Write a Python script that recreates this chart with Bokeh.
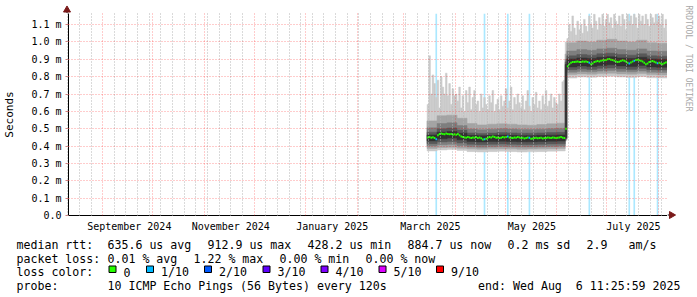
import math
import pandas as pd
from bokeh.plotting import figure
from bokeh.layouts import column, row
from bokeh.models import (ColumnDataSource, FixedTicker, Grid, BoxAnnotation, Range1d)
from bokeh.core.properties import value
from bokeh.embed import file_html
from bokeh.resources import INLINE

# ---------------- data ----------------
start_time = "2024-08-11 11:25:59"
end_time = "2025-08-06 11:25:59"

y_ticks_us = [0, 100, 200, 300, 400, 500, 600, 700, 800, 900, 1000, 1100]
y_tick_labels = ["0.0", "0.1 m", "0.2 m", "0.3 m", "0.4 m", "0.5 m", "0.6 m",
                 "0.7 m", "0.8 m", "0.9 m", "1.0 m", "1.1 m"]
y_top_us = 1164

month_label_months = ["2024-09-01", "2024-11-01", "2025-01-01", "2025-03-01", "2025-05-01", "2025-07-01"]
month_labels = ["September 2024", "November 2024", "January 2025", "March 2025", "May 2025", "July 2025"]

# daily values, 2025-03-15 .. 2025-08-06
first_day = "2025-03-15"
median_us = [
    450, 452, 448, 451, 446, 440,
    462, 470, 472, 470, 468, 472, 470, 468, 470, 466, 468, 465, 470, 462,
    455, 452, 450, 448, 452, 450, 446, 450, 448, 452, 447, 450, 445, 438, 440, 442, 448, 452, 450, 455, 452, 448, 450, 446, 448, 452, 450,
    452, 455, 450, 448, 446, 450, 448, 452, 450, 446, 448, 444, 446, 450, 448, 442, 444, 446, 448, 445, 446, 448, 444, 447, 446, 449, 448, 446, 450, 448, 446,
    448, 450, 452, 448, 446,
    500,
    860, 872, 880, 885, 884, 886, 888, 885, 884, 887, 886, 888, 885, 880, 872, 876, 884, 888, 890, 888, 892, 895, 894, 896,
    900, 902, 898, 896, 892, 888, 884, 886, 890, 894, 892, 888, 880, 876, 882, 888, 892, 896, 898, 895, 892, 888, 880, 872, 876, 884, 888, 890, 886, 882, 878,
    880, 876, 872, 878, 882, 885,
]
max_us = [
    640, 920, 700, 810, 760, 680, 780, 620, 800, 740, 700, 820, 690, 760, 640, 730, 690,
    700, 660, 740, 620, 690, 600, 720, 650, 740, 610, 680, 720, 640, 660, 600, 700, 620, 680, 640, 610, 690, 650, 720, 600, 640, 670, 610, 690, 630, 660,
    730, 620, 660, 740, 610, 680, 640, 700, 650, 620, 690, 610, 660, 720, 630, 600, 680, 640, 710, 620, 660, 610, 690, 640, 720, 630, 660, 700, 620, 680, 650,
    640, 700, 660, 770, 780,
    1000,
    1020, 1100, 1060, 1150, 1080, 1040, 1120, 1070, 1100, 1050, 1130, 1090, 1060, 1150, 1100, 1080, 1160, 1120, 1070, 1140, 1100, 1160, 1090, 1130,
    1160, 1110, 1140, 1080, 1160, 1120, 1100, 1150, 1090, 1160, 1130, 1070, 1160, 1120, 1150, 1100, 1160, 1140, 1080, 1160, 1120, 1150, 1100, 1160, 1130, 1090, 1160, 1140, 1110, 1160, 1120,
    1150, 1100, 1160, 1080, 1130, 1060,
]

# smoke bands (sorted pings 1..9 of 10), per block of days
band_starts = ["2025-03-15", "2025-03-21", "2025-03-27", "2025-04-02", "2025-04-08", "2025-04-14",
               "2025-04-20", "2025-04-26", "2025-05-02", "2025-05-08", "2025-05-14", "2025-05-20",
               "2025-05-26", "2025-06-01", "2025-06-06", "2025-06-07", "2025-06-13", "2025-06-19",
               "2025-06-25", "2025-07-01", "2025-07-07", "2025-07-13", "2025-07-19", "2025-07-25",
               "2025-07-31"]
band_last_end = "2025-08-07"
ping1_us = [372, 378, 380, 375, 368, 366, 368, 370, 368, 366, 367, 368, 370, 372, 430, 792, 798, 796, 800, 802, 798, 795, 800, 794, 792]
ping2_us = [386, 392, 394, 388, 384, 382, 384, 385, 384, 382, 383, 384, 385, 386, 436, 812, 816, 814, 818, 820, 816, 814, 818, 812, 810]
ping3_us = [400, 408, 410, 402, 396, 394, 396, 398, 396, 395, 395, 396, 398, 399, 440, 826, 830, 828, 832, 835, 830, 828, 832, 826, 824]
ping4_us = [414, 424, 426, 418, 410, 408, 410, 412, 410, 409, 409, 410, 412, 413, 444, 840, 845, 842, 848, 850, 845, 842, 848, 840, 838]
ping5_us = [430, 442, 446, 436, 426, 424, 426, 428, 426, 425, 425, 426, 428, 429, 448, 856, 862, 858, 865, 868, 862, 858, 865, 856, 854]
ping6_us = [464, 480, 484, 474, 462, 460, 462, 464, 462, 460, 460, 462, 463, 464, 870, 902, 908, 905, 912, 915, 908, 905, 912, 902, 900]
ping7_us = [480, 500, 504, 492, 476, 472, 475, 478, 476, 474, 474, 476, 478, 479, 885, 920, 928, 924, 932, 935, 928, 924, 932, 920, 918]
ping8_us = [505, 530, 534, 518, 498, 494, 497, 500, 498, 496, 495, 497, 500, 502, 900, 948, 956, 952, 960, 964, 956, 952, 960, 948, 946]
ping9_us = [545, 575, 578, 560, 530, 522, 526, 528, 526, 522, 520, 524, 528, 532, 930, 995, 1005, 1000, 1010, 1015, 1005, 1000, 1010, 995, 992]

# days with 1/10 packet loss
loss_days = ["2025-03-20", "2025-04-18", "2025-05-02", "2025-05-15",
             "2025-06-20", "2025-07-14", "2025-07-17", "2025-07-31"]

loss_levels = ["0", "1/10", "2/10", "3/10", "4/10", "5/10", "9/10"]
loss_colors = ["#26ff00", "#00b8ff", "#0059ff", "#5e00ff", "#7e00ff", "#dd00ff", "#ff0000"]

median_row = ["median rtt:", "635.6 us avg", "912.9 us max", "428.2 us min", "884.7 us now", "0.2 ms sd", "2.9", "am/s"]
loss_row = ["packet loss:", "0.01 % avg", "1.22 % max", "0.00 % min", "0.00 % now"]
probe_row = ["probe:", "10 ICMP Echo Pings (56 Bytes) every 120s"]
end_text = "end: Wed Aug \u00a06 11:25:59 2025"
watermark = "RRDTOOL / TOBI OETIKER"

# ---------------- helpers ----------------
DAY_MS = 86400000
FONT = "DejaVu Sans Mono"
W, H = 697, 297
FL, FR, FT, FB = 67, 667, 13, 215     # graph frame in canvas pixels
LEG_TOP = 236                          # legend strip starts here
ARROW = "#7a1a1a"


def ms(v):
    return int(pd.Timestamp(v).value // 10**6)


t0, t1 = ms(start_time), ms(end_time)
days = pd.date_range(first_day, periods=len(median_us), freq="D")
day_ms = [ms(d) for d in days]
loss_ms = set(ms(d) for d in loss_days)
median_colors = [loss_colors[1] if d in loss_ms else loss_colors[0] for d in day_ms]

band_left = [ms(d) for d in band_starts]
band_right = band_left[1:] + [ms(band_last_end)]

# ---------------- main graph ----------------
p = figure(width=FR, height=LEG_TOP - FT, output_backend="svg", toolbar_location=None,
           x_range=Range1d(t0, t1), y_range=Range1d(0, y_top_us),
           min_border_left=FL, min_border_right=0, min_border_top=0,
           min_border_bottom=LEG_TOP - FB)
p.outline_line_color = None
p.background_fill_color = "white"
p.border_fill_color = "white"

for d in sorted(loss_ms):
    p.add_layout(BoxAnnotation(left=d, right=d + DAY_MS, fill_color=loss_colors[1],
                               fill_alpha=0.33, line_color=None, level="underlay"))

day_src = ColumnDataSource(dict(left=day_ms, right=[d + DAY_MS for d in day_ms],
                                median=median_us, top=max_us, color=median_colors))
band_src = ColumnDataSource(dict(left=band_left, right=band_right,
                                 p1=ping1_us, p2=ping2_us, p3=ping3_us, p4=ping4_us, p5=ping5_us,
                                 p6=ping6_us, p7=ping7_us, p8=ping8_us, p9=ping9_us))

p.quad(left="left", right="right", bottom="median", top="top", source=day_src,
       fill_color="#cacaca", line_color="#cacaca", line_width=0.5)
for lo, hi, col in [("p1", "p9", "#cacaca"), ("p2", "p9", "#a4a4a4"), ("p3", "p8", "#7e7e7e"),
                    ("p4", "p7", "#585858"), ("p5", "p6", "#323232")]:
    p.quad(left="left", right="right", bottom=lo, top=hi, source=band_src,
           fill_color=col, line_color=col, line_width=0.5)
p.segment(x0="left", x1="right", y0="median", y1="median", source=day_src,
          line_color="color", line_width=2)

# grids (drawn over the smoke, like rrdtool)
month_ms = [ms(d) for d in pd.date_range("2024-09-01", "2025-08-01", freq="MS")]
week_ms = [ms(d) for d in pd.date_range("2024-08-11", "2025-08-06", freq="W-SUN") if ms(d) not in month_ms]
p.xgrid[0].ticker = FixedTicker(ticks=week_ms)
p.xgrid[0].grid_line_color = "#b4b4b4"
p.xgrid[0].grid_line_dash = "1 2"
p.xgrid[0].level = "overlay"
mgrid = Grid(dimension=0, ticker=FixedTicker(ticks=month_ms), grid_line_color="#ff0000",
             grid_line_alpha=0.4, grid_line_dash="1 2", level="overlay")
p.add_layout(mgrid)
p.ygrid[0].ticker = FixedTicker(ticks=y_ticks_us[1:])
p.ygrid[0].grid_line_color = "#ff0000"
p.ygrid[0].grid_line_alpha = 0.4
p.ygrid[0].grid_line_dash = "1 2"
p.ygrid[0].level = "overlay"

# x axis
label_ms = [ms(pd.Timestamp(d) + pd.Timedelta(days=16)) for d in month_label_months]
xa = p.xaxis[0]
xa.ticker = FixedTicker(ticks=label_ms)
xa.major_label_overrides = {t: s for t, s in zip(label_ms, month_labels)}
xa.major_tick_line_color = None
xa.minor_tick_line_color = None
xa.major_tick_out = 0
xa.major_tick_in = 0
xa.major_label_standoff = 5
xa.axis_line_color = "#000000"
xa.major_label_text_font = FONT
xa.major_label_text_font_size = "10px"
xa.major_label_text_color = "#000000"

# y axis
ya = p.yaxis[0]
ya.ticker = FixedTicker(ticks=y_ticks_us)
ya.major_label_overrides = {t: s for t, s in zip(y_ticks_us, y_tick_labels)}
ya.major_tick_out = 3
ya.major_tick_in = 0
ya.major_tick_line_color = "#d08080"
ya.minor_tick_line_color = None
ya.major_label_standoff = 4
ya.axis_line_color = "#000000"
ya.major_label_text_font = FONT
ya.major_label_text_font_size = "10px"
ya.major_label_text_color = "#000000"
ya.axis_label = "Seconds"
ya.axis_label_text_font = FONT
ya.axis_label_text_font_size = "11px"
ya.axis_label_text_font_style = "normal"
ya.axis_label_text_color = "#000000"
ya.axis_label_standoff = 12


def blank(width, height, xr, yr):
    f = figure(width=width, height=height, output_backend="svg", toolbar_location=None,
               x_range=Range1d(*xr), y_range=Range1d(*yr), min_border=0,
               x_axis_location=None, y_axis_location=None)
    f.outline_line_color = None
    f.grid.visible = False
    f.background_fill_color = "white"
    f.border_fill_color = "white"
    return f


# ---------------- top strip: y-axis arrow (canvas pixel coordinates) ----------------
top = blank(FR, FT, (0, FR), (FT, 0))
top.segment(x0=[FL - 0.5], x1=[FL - 0.5], y0=[FT], y1=[10], line_color="#000000", line_width=1)
top.scatter(x=[FL - 0.5], y=[9.5], marker="triangle", size=7, fill_color=ARROW, line_color=ARROW)

# ---------------- right strip: x-axis arrow and watermark ----------------
wm = blank(W - FR, LEG_TOP, (FR, W), (LEG_TOP, 0))
wm.segment(x0=[FR], x1=[670], y0=[FB - 0.5], y1=[FB - 0.5], line_color="#000000", line_width=1)
wm.scatter(x=[671], y=[FB - 0.5], marker="triangle", angle=-math.pi / 2, size=7,
           fill_color=ARROW, line_color=ARROW)
wm.text(x=[688], y=[5], text=[watermark], angle=-math.pi / 2,
        text_font=value(FONT), text_font_size=value("8.0px"), text_color="#a8a8a8",
        text_align="left", text_baseline="middle")

# ---------------- legend (canvas pixel coordinates) ----------------
lg = blank(W, H - LEG_TOP, (0, W), (H, LEG_TOP))
row_y = [244.2, 258.1, 271.9, 285.7]
tx, ty, tt = [], [], []
for txt, x in zip(median_row, [16, 107, 207, 307, 407, 507, 586, 628]):
    tx.append(x); ty.append(row_y[0]); tt.append(txt)
for txt, x in zip(loss_row, [16, 107, 193, 279, 365]):
    tx.append(x); ty.append(row_y[1]); tt.append(txt)
tx.append(16); ty.append(row_y[2]); tt.append("loss color:")
box_x = [108, 145.5, 203.5, 262, 320, 378, 435.5]
for lvl, bx in zip(loss_levels, box_x):
    tx.append(bx + 15); ty.append(row_y[2]); tt.append(lvl)
for txt, x in zip(probe_row, [16, 107]):
    tx.append(x); ty.append(row_y[3]); tt.append(txt)
lg.text(x=tx, y=ty, text=tt, text_font=value(FONT), text_font_size=value("11.6px"),
        text_color="#000000", text_align="left", text_baseline="alphabetic")
lg.text(x=[680], y=[row_y[3]], text=[end_text], text_font=value(FONT),
        text_font_size=value("11.6px"), text_color="#000000",
        text_align="right", text_baseline="alphabetic")
lg.quad(left=[b + 0.5 for b in box_x], right=[b + 7.5 for b in box_x],
        top=[265.5] * len(box_x), bottom=[272] * len(box_x),
        fill_color=loss_colors, line_color="#000000", line_width=1)

# the top strip is wrapped in its own row so that its frame is not aligned with the graph's frame
layout = column(row(column(row(top, spacing=0), p, spacing=0), wm, spacing=0), lg, spacing=0)
open("out.html", "w").write(file_html(layout, INLINE))
